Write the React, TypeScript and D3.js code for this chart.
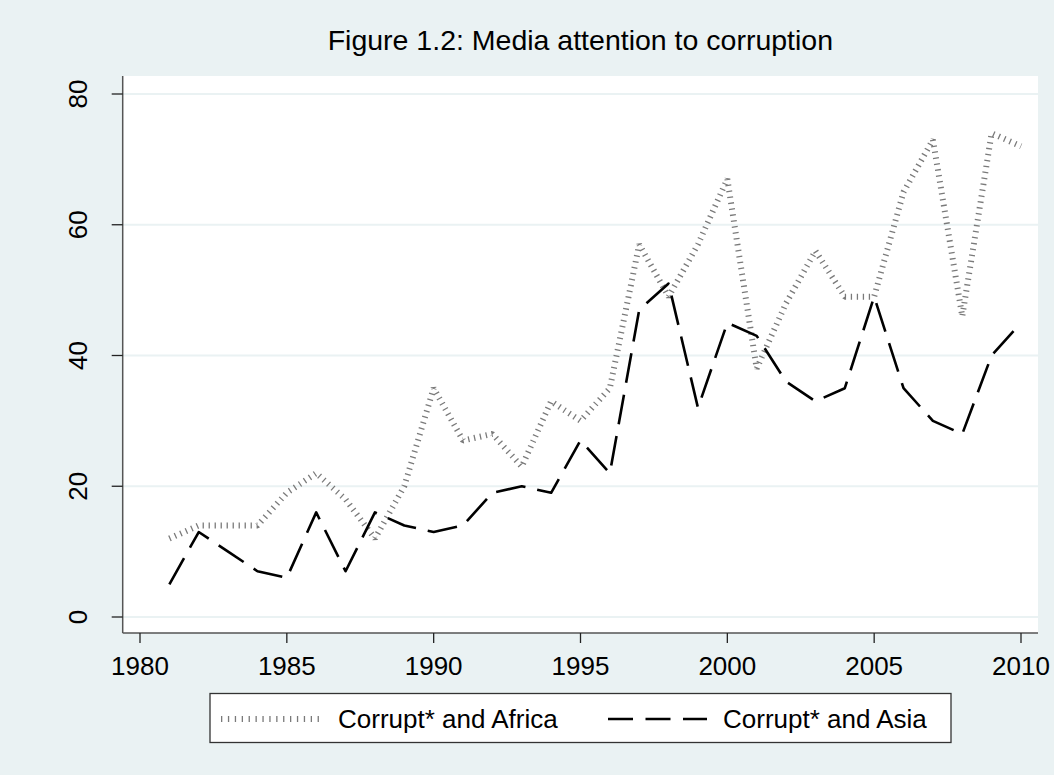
import React, { useEffect, useRef } from "react";
import * as d3 from "d3";

// values
const years = [1981, 1982, 1983, 1984, 1985, 1986, 1987, 1988, 1989, 1990,
  1991, 1992, 1993, 1994, 1995, 1996, 1997, 1998, 1999, 2000,
  2001, 2002, 2003, 2004, 2005, 2006, 2007, 2008, 2009, 2010];
const africa = [12, 14, 14, 14, 19, 22, 18, 12, 20, 35, 27, 28, 23, 33, 30,
  35, 57, 49, 57, 67, 38, 48, 56, 49, 49, 65, 73, 46, 74, 72];
const asia = [5, 13, 10, 7, 6, 16, 7, 16, 14, 13, 14, 19, 20, 19, 27,
  22, 47, 51, 32, 45, 43, 36, 33, 35, 49, 35, 30, 28, 40, 45];
const xTicks = [1980, 1985, 1990, 1995, 2000, 2005, 2010];
const yTicks = [0, 20, 40, 60, 80];
const seriesNames = ["Corrupt* and Africa", "Corrupt* and Asia"];
const titleText = "Figure 1.2: Media attention to corruption";

const W = 1054;
const H = 775;
const FONT = "'Liberation Sans', Arial, sans-serif";
const BG = "#eaf2f3";

export default function App() {
  const ref = useRef<SVGSVGElement>(null);

  useEffect(() => {
    const svg = d3.select(ref.current);
    svg.selectAll("*").remove();

    const plot = { left: 122.7, right: 1038, top: 76, bottom: 633 };
    const x = d3.scaleLinear().domain([1980, 2010]).range([140, 1021]);
    const y = d3.scaleLinear().domain([0, 80]).range([617, 94]);

    svg.append("rect").attr("width", W).attr("height", H).attr("fill", BG);
    svg.append("rect")
      .attr("x", plot.left).attr("y", plot.top)
      .attr("width", plot.right - plot.left).attr("height", plot.bottom - plot.top)
      .attr("fill", "#ffffff");

    // grid
    svg.append("g").selectAll("line").data(yTicks).join("line")
      .attr("x1", plot.left).attr("x2", plot.right)
      .attr("y1", (d) => y(d)).attr("y2", (d) => y(d))
      .attr("stroke", BG).attr("stroke-width", 2);

    // series
    const line = d3.line<number>().x((d, i) => x(years[i])).y((d) => y(d));
    svg.append("path").datum(africa)
      .attr("d", line)
      .attr("fill", "none")
      .attr("stroke", "#7a7a7a")
      .attr("stroke-width", 6)
      .attr("stroke-linejoin", "bevel")
      .attr("stroke-dasharray", "1.3 4.7");
    svg.append("path").datum(asia)
      .attr("d", line)
      .attr("fill", "none")
      .attr("stroke", "#000")
      .attr("stroke-width", 2.6)
      .attr("stroke-linejoin", "round")
      .attr("stroke-dasharray", "30 12");

    // axes
    svg.append("line")
      .attr("x1", plot.left).attr("x2", plot.left)
      .attr("y1", plot.top).attr("y2", plot.bottom)
      .attr("stroke", "#555").attr("stroke-width", 1.5);
    svg.append("line")
      .attr("x1", plot.left).attr("x2", plot.right)
      .attr("y1", plot.bottom).attr("y2", plot.bottom)
      .attr("stroke", "#555").attr("stroke-width", 1.5);

    const yAxis = svg.append("g");
    yAxis.selectAll("line").data(yTicks).join("line")
      .attr("x1", plot.left - 11).attr("x2", plot.left)
      .attr("y1", (d) => y(d)).attr("y2", (d) => y(d))
      .attr("stroke", "#222").attr("stroke-width", 1.3);
    yAxis.selectAll("text").data(yTicks).join("text")
      .attr("transform", (d) => `translate(87,${y(d)}) rotate(-90)`)
      .attr("text-anchor", "middle")
      .attr("font-family", FONT).attr("font-size", 26)
      .attr("fill", "#000")
      .text((d) => d);

    const xAxis = svg.append("g");
    xAxis.selectAll("line").data(xTicks).join("line")
      .attr("x1", (d) => x(d)).attr("x2", (d) => x(d))
      .attr("y1", plot.bottom).attr("y2", plot.bottom + 10)
      .attr("stroke", "#222").attr("stroke-width", 1.3);
    xAxis.selectAll("text").data(xTicks).join("text")
      .attr("x", (d) => x(d)).attr("y", 675)
      .attr("text-anchor", "middle")
      .attr("font-family", FONT).attr("font-size", 26)
      .attr("fill", "#000")
      .text((d) => d);

    // title
    svg.append("text")
      .attr("x", (plot.left + plot.right) / 2).attr("y", 50)
      .attr("text-anchor", "middle")
      .attr("font-family", FONT).attr("font-size", 28.5)
      .attr("fill", "#000")
      .text(titleText);

    // legend
    const lg = svg.append("g");
    lg.append("rect")
      .attr("x", 210).attr("y", 693.5).attr("width", 741).attr("height", 49)
      .attr("fill", "#fff").attr("stroke", "#333").attr("stroke-width", 1.3);
    lg.append("line")
      .attr("x1", 221).attr("x2", 320).attr("y1", 719).attr("y2", 719)
      .attr("stroke", "#7a7a7a").attr("stroke-width", 6)
      .attr("stroke-dasharray", "1.3 5.6");
    lg.append("text")
      .attr("x", 338).attr("y", 728)
      .attr("font-family", FONT).attr("font-size", 26)
      .text(seriesNames[0]);
    lg.append("line")
      .attr("x1", 608).attr("x2", 707).attr("y1", 719).attr("y2", 719)
      .attr("stroke", "#000").attr("stroke-width", 2.6)
      .attr("stroke-dasharray", "25 12.5");
    lg.append("text")
      .attr("x", 723).attr("y", 728)
      .attr("font-family", FONT).attr("font-size", 26)
      .text(seriesNames[1]);
  }, []);

  return (
    <svg
      ref={ref}
      width={W}
      height={H}
      style={{ position: "absolute", left: 0, top: 0, display: "block" }}
    />
  );
}
